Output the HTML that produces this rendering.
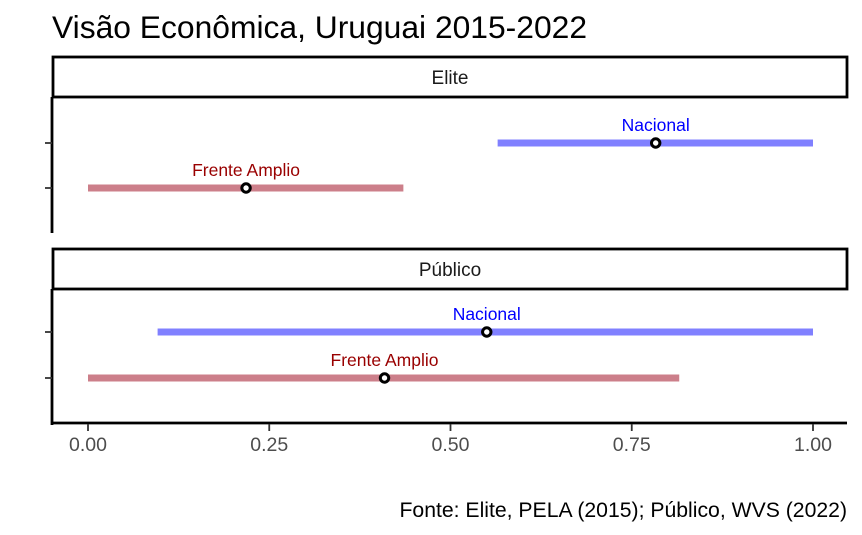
<!DOCTYPE html>
<html><head><meta charset="utf-8"><style>
body{margin:0;background:#fff;}
svg{display:block;font-family:"Liberation Sans",sans-serif;}
</style></head><body>
<svg id="c" width="862" height="535">
<text x="52" y="38" font-size="31.8" fill="#000">Visão Econômica, Uruguai 2015-2022</text>
<text x="847" y="517" font-size="21.2" text-anchor="end" fill="#000">Fonte: Elite, PELA (2015); Público, WVS (2022)</text>
</svg>
<script>
const panels=["Elite","Público"];
const parties=["Nacional","Frente Amplio"];
const lows=[[0.565,0],[0.096,0]];
const highs=[[1.0,0.435],[1.0,0.8155]];
const means=[[0.783,0.218],[0.550,0.409]];
const ticks=[0,0.25,0.5,0.75,1.0];
const tickLabels=["0.00","0.25","0.50","0.75","1.00"];
const colors=["#8080ff","#cc7f8a"];
const textColors=["#0000ff","#990000"];
const NS="http://www.w3.org/2000/svg";
const svg=document.getElementById('c');
const x=v=>88+v*725;
const panelTop=[97,289], panelH=135;
const rowOff=[[46,91],[43,89]];
function el(t,a,par){const e=document.createElementNS(NS,t);for(const k in a)e.setAttribute(k,a[k]);(par||svg).appendChild(e);return e;}
panels.forEach((name,p)=>{
  const s=el('rect',{x:53,y:panelTop[p]-40,width:794,height:40,fill:'#fff',stroke:'#000','stroke-width':2.8});
  
  
  const st=el('text',{x:450,y:panelTop[p]-13,'font-size':19,'text-anchor':'middle',fill:'#1a1a1a'});st.textContent=name;
  
  
  const ax=el('line',{x1:52,x2:52,y1:panelTop[p],y2:panelTop[p]+panelH+1,stroke:'#000','stroke-width':2.8});
  
  
  parties.forEach((pt,i)=>{
    const y=panelTop[p]+rowOff[p][i];
    const tk=el('line',{x1:45,x2:52,y1:y,y2:y,stroke:'#333','stroke-width':1.8});
    
    
    const r=el('line',{x1:x(lows[p][i]),x2:x(highs[p][i]),y1:y,y2:y,stroke:colors[i],'stroke-width':7});
    
    
    const c=el('circle',{cx:x(means[p][i]),cy:y,r:4.2,fill:'#fff',stroke:'#000','stroke-width':3});
    
    
    const t=el('text',{x:x(means[p][i]),y:y-12,'font-size':17.5,'text-anchor':'middle',fill:textColors[i]});t.textContent=pt;
    
    
  });
});
const bx=el('line',{x1:51,x2:847,y1:423,y2:423,stroke:'#000','stroke-width':2.8});


ticks.forEach((v,i)=>{
  const tk=el('line',{x1:x(v),x2:x(v),y1:424,y2:431,stroke:'#333','stroke-width':1.8});
  
  
  const t=el('text',{x:x(v),y:451,'font-size':19.5,'text-anchor':'middle',fill:'#4d4d4d'});t.textContent=tickLabels[i];
  
  
});
</script>
</body></html>
